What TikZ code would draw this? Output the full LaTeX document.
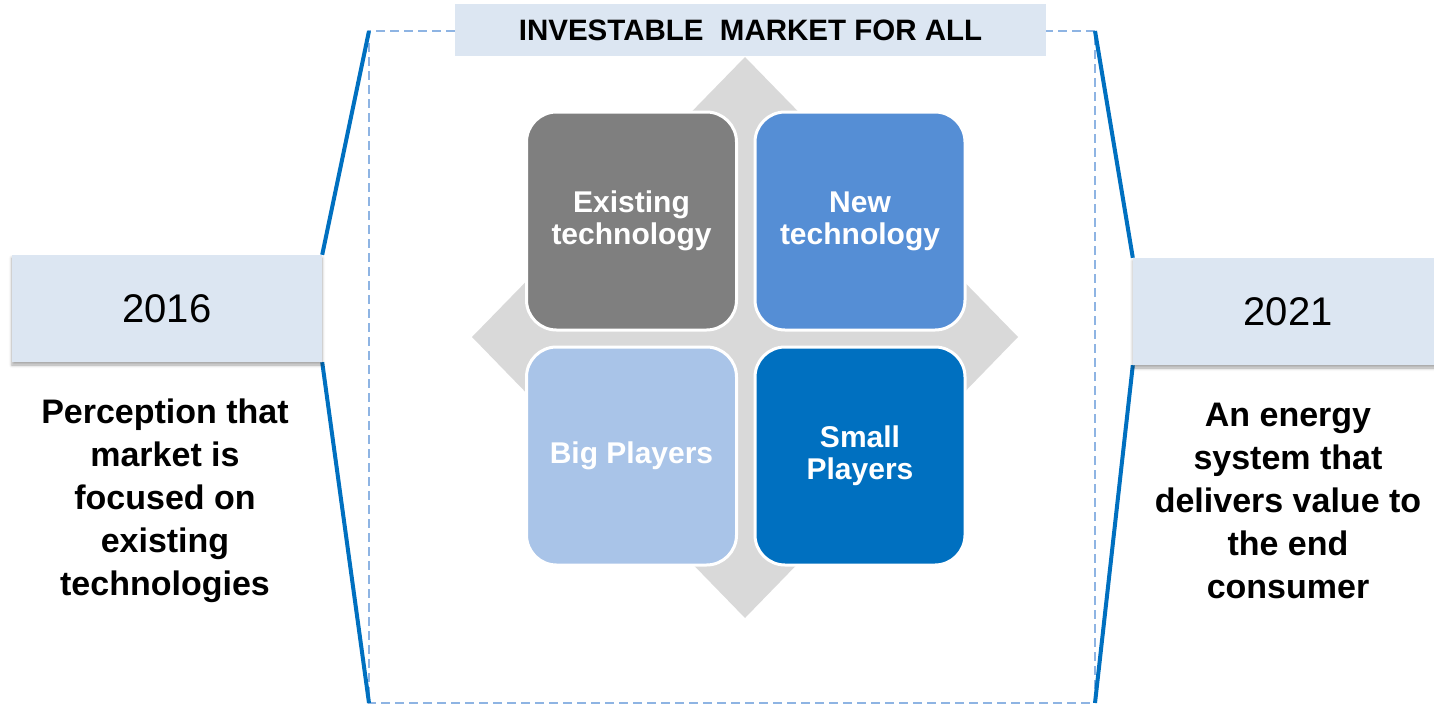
\documentclass[tikz,border=0pt]{standalone}
\usepackage{fontspec}
\setmainfont{Liberation Sans}
\usetikzlibrary{shadows.blur,backgrounds}
\definecolor{paleblue}{HTML}{DCE6F2}
\definecolor{dashblue}{HTML}{8EB4E3}
\definecolor{bracketblue}{HTML}{0070C0}
\definecolor{crossgray}{HTML}{D9D9D9}
\definecolor{cellgray}{HTML}{7F7F7F}
\definecolor{cellmid}{HTML}{558ED5}
\definecolor{celllight}{HTML}{A9C4E8}
\definecolor{celldark}{HTML}{0070C0}
\begin{document}
\begin{tikzpicture}[x=1pt,y=-1pt,
  yearbox/.style={fill=paleblue, minimum width=310pt, minimum height=107pt, inner sep=0pt,
    blur shadow={shadow xshift=0pt, shadow yshift=-3pt, shadow blur radius=3pt, shadow opacity=35},
    font=\fontsize{40}{48}\selectfont},
  desc/.style={align=center, font=\fontsize{34}{43}\selectfont\bfseries},
  cell/.style={rounded corners=30pt, draw=white, line width=3pt, minimum width=210pt, minimum height=218pt,
    align=center, text=white, font=\fontsize{30}{32}\selectfont\bfseries},
  frame/.style={draw=dashblue, line width=1.5pt, dash pattern=on 9pt off 5pt},
  bracket/.style={draw=bracketblue, line width=4pt}]
\useasboundingbox (0,0) rectangle (1434,704);
\fill[crossgray] (745,57) -- (1018,337) -- (745,618) -- (472,337) -- cycle;
\node[cell, fill=cellgray] (cell0) at (631.5,221){Existing\\technology};
\node[cell, fill=cellmid] (cell1) at (860,221){New\\technology};
\node[cell, fill=celllight] (cell2) at (631.5,456){Big Players};
\node[cell, fill=celldark] (cell3) at (860,456){Small\\Players};
\node[fill=paleblue, minimum width=591pt, minimum height=52pt, inner sep=0pt,
  font=\fontsize{29.5}{34}\selectfont\bfseries] (title) at (750.5,30){INVESTABLE\ \ MARKET FOR ALL};
\node[yearbox] (yr0) at (167,308.5){2016};
\node[yearbox] (yr1) at (1288,311.5){2021};
\node[desc] (txt0) at (165,501){Perception that\\market is\\focused on\\existing\\technologies};
\node[desc] (txt1) at (1288,501){An energy\\system that\\delivers value to\\the end\\consumer};
\coordinate (ftl) at (369,31);
\coordinate (fbl) at (369,703);
\coordinate (fbr) at (1095,703);
\coordinate (ftr) at (1095,31);
\begin{pgfonlayer}{background}
\draw[frame](title.west |- ftl) -- (ftl) -- (fbl) -- (fbr) -- (ftr) -- (title.east |- ftr);
\draw[bracket](ftl) -- (yr0.north east);
\draw[bracket](yr0.south east) -- (fbl);
\draw[bracket](ftr) -- (yr1.north west);
\draw[bracket](yr1.south west) -- (fbr);
\end{pgfonlayer}
\end{tikzpicture}
\end{document}
